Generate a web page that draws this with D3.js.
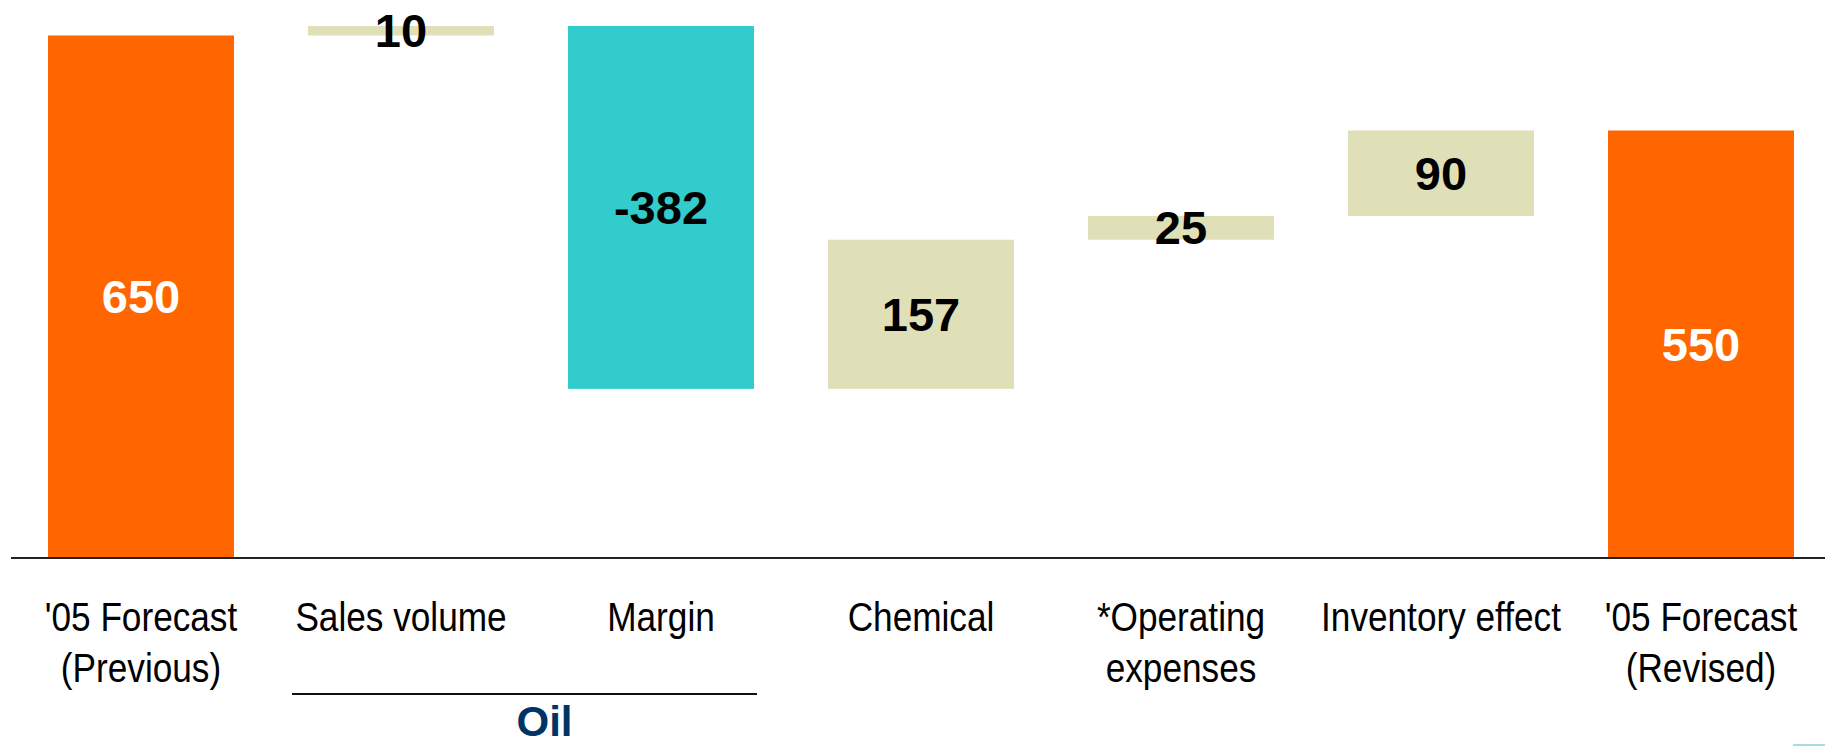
<!DOCTYPE html>
<html>
<head>
<meta charset="utf-8">
<script src="https://cdn.jsdelivr.net/npm/d3@7/dist/d3.min.js"></script>
<style>
  html, body { margin: 0; padding: 0; background: #ffffff; }
  svg { display: block; }
  text { font-family: "Liberation Sans", Arial, Helvetica, sans-serif; }
</style>
</head>
<body>
<svg id="chart" width="1825" height="746"></svg>
<script>
// Waterfall: 2005 earnings forecast bridge (previous -> revised)
const categories = ["'05 Forecast (Previous)", "Sales volume", "Margin", "Chemical",
                    "*Operating expenses", "Inventory effect", "'05 Forecast (Revised)"];
const labelLines = [["'05 Forecast", "(Previous)"], ["Sales volume"], ["Margin"], ["Chemical"],
                    ["*Operating", "expenses"], ["Inventory effect"], ["'05 Forecast", "(Revised)"]];
const values = [650, 10, -382, 157, 25, 90, 550];
const kinds = ["total", "delta", "delta", "delta", "delta", "delta", "total"];
const yDomain = [100, 660];          // value axis is broken: totals are cut at 100
const groupLabel = "Oil";
const groupMembers = ["Sales volume", "Margin"];

const colors = { total: "#FF6600", up: "#E0E0B8", down: "#33CCCC" };

const W = 1825, H = 746;
const svg = d3.select("#chart");

const x = d3.scaleBand()
  .domain(categories)
  .range([11, 1831])
  .paddingInner(0.2846)
  .paddingOuter(0.1423);

const y = d3.scaleLinear().domain(yDomain).range([558, 26]);

// running totals for the floating bars
let running = 0;
const bars = categories.map((c, i) => {
  const v = values[i];
  let lo, hi, fill, textFill;
  if (kinds[i] === "total") {
    lo = yDomain[0]; hi = v; running = v;
    fill = colors.total; textFill = "#ffffff";
  } else {
    const start = running, end = running + v;
    lo = Math.min(start, end); hi = Math.max(start, end); running = end;
    fill = v >= 0 ? colors.up : colors.down; textFill = "#000000";
  }
  return { c, v, lo, hi, fill, textFill };
});

// bars
svg.append("g").selectAll("rect")
  .data(bars)
  .join("rect")
  .attr("x", d => x(d.c))
  .attr("width", x.bandwidth())
  .attr("y", d => y(d.hi))
  .attr("height", d => y(d.lo) - y(d.hi))
  .attr("fill", d => d.fill);

// value labels, centred on each bar
svg.append("g").selectAll("text")
  .data(bars)
  .join("text")
  .attr("x", d => x(d.c) + x.bandwidth() / 2)
  .attr("y", d => (y(d.lo) + y(d.hi)) / 2)
  .attr("dy", "0.35em")
  .attr("text-anchor", "middle")
  .attr("font-size", 47)
  .attr("font-weight", "bold")
  .attr("fill", d => d.textFill)
  .text(d => String(d.v));

// baseline
svg.append("line")
  .attr("x1", 11).attr("x2", W)
  .attr("y1", y(yDomain[0])).attr("y2", y(yDomain[0]))
  .attr("stroke", "#222").attr("stroke-width", 2.2);

// category labels (condensed)
const catG = svg.append("g").selectAll("g")
  .data(categories)
  .join("g")
  .attr("transform", c => `translate(${x(c) + x.bandwidth() / 2},631) scale(0.88,1)`);
catG.selectAll("text")
  .data((c, i) => labelLines[i])
  .join("text")
  .attr("y", (d, j) => j * 51)
  .attr("text-anchor", "middle")
  .attr("font-size", 40)
  .attr("fill", "#000")
  .text(d => d);

// group bracket for the oil segment
const gx0 = x(groupMembers[0]) - 16;
const gx1 = x(groupMembers[groupMembers.length - 1]) + x.bandwidth() + 3;
svg.append("line")
  .attr("x1", gx0).attr("x2", gx1)
  .attr("y1", 694).attr("y2", 694)
  .attr("stroke", "#111").attr("stroke-width", 2);
svg.append("text")
  .attr("x", (gx0 + gx1) / 2 + 20)
  .attr("y", 736)
  .attr("text-anchor", "middle")
  .attr("font-size", 42)
  .attr("font-weight", "bold")
  .attr("fill", "#003366")
  .text(groupLabel);

// small slide accent in the corner
svg.append("rect")
  .attr("x", 1793).attr("y", 744)
  .attr("width", 32).attr("height", 2)
  .attr("fill", "#A6DCE4");
</script>
</body>
</html>
